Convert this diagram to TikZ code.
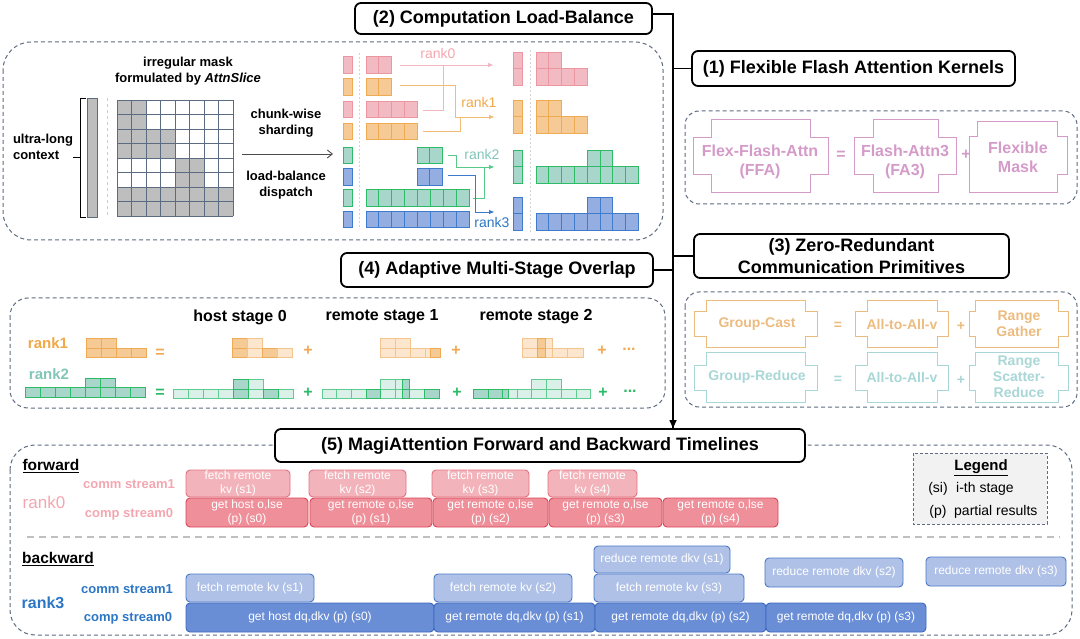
\documentclass[tikz,border=0pt]{standalone}
\usepackage{fontspec}
\setmainfont{Liberation Sans}
\usetikzlibrary{arrows.meta}
\definecolor{pkF}{HTML}{F2BAC2}\definecolor{pkD}{HTML}{EC96A2}
\definecolor{orF}{HTML}{F5CA94}\definecolor{orD}{HTML}{EFAA55}
\definecolor{orL}{HTML}{FCE6CD}\definecolor{orLD}{HTML}{F3C48E}
\definecolor{grF}{HTML}{A9D6CA}\definecolor{grD}{HTML}{2EBB68}
\definecolor{grL}{HTML}{DAF0E8}\definecolor{grLD}{HTML}{5FCB8F}
\definecolor{blF}{HTML}{95AEE2}\definecolor{blD}{HTML}{3E7BCB}
\definecolor{rkA}{HTML}{F4A6B0}\definecolor{rkB}{HTML}{F0A848}
\definecolor{rkC}{HTML}{82C6BA}\definecolor{rkD}{HTML}{2C76C6}
\definecolor{dashc}{HTML}{5E6B80}\definecolor{purp}{HTML}{D49BC8}
\definecolor{orl}{HTML}{ECBB80}\definecolor{tel}{HTML}{A9D6D6}
\definecolor{fcF}{HTML}{F3B3BB}\definecolor{fcD}{HTML}{E3707F}
\definecolor{fpF}{HTML}{EF8F9A}\definecolor{fpD}{HTML}{D94556}
\definecolor{bcF}{HTML}{AFC1E7}\definecolor{bcD}{HTML}{4B78C6}
\definecolor{bpF}{HTML}{6A8ED6}\definecolor{bpD}{HTML}{3B69BF}
\definecolor{maskg}{HTML}{BEBEBE}\definecolor{gridl}{HTML}{5B6B82}
\newcommand\xshape[9]{\draw[#1,line width=1] (#3,#6) -- (#4,#6) -- (#4,#7) -- (#5,#7) -- (#5,#8) -- (#4,#8) -- (#4,#9) -- (#3,#9) -- (#3,#8) -- (#2,#8) -- (#2,#7) -- (#3,#7) -- cycle;}
\newcommand\cellrow[7]{\foreach \ci in {1,...,#7}{\draw[fill=#1,draw=#2,line width=0.9] ({#3+(\ci-1)*#5},#4) rectangle ++(#5,#6);}}
\newcommand\segrow[3]{\foreach \xa/\xb/\ff/\dd in {#3}{\draw[fill=\ff,draw=\dd,line width=0.9] (\xa,#1) rectangle (\xb,{#1+#2});}}
\newcommand\tbox[7]{\node[#1,minimum width={#5-#3},minimum height={#6-#4}] (#2) at ({(#3+#5)/2},{(#4+#6)/2}) {#7};}
\begin{document}
\begin{tikzpicture}[x=1pt,y=-1pt,
  title/.style={draw,line width=1.8,rounded corners=6,fill=white,inner sep=0,align=center,font=\bfseries\fontsize{18}{22}\selectfont},
  panel/.style={draw=dashc,line width=1,dash pattern=on 4pt off 3pt},
  lab/.style={inner sep=0,align=center,font=\bfseries\fontsize{13}{16}\selectfont},
  rk/.style={inner sep=0,font=\fontsize{14}{16}\selectfont},
  pt/.style={inner sep=0,align=center,font=\bfseries\fontsize{16}{19}\selectfont,text=purp},
  ct/.style={inner sep=0,align=center,font=\bfseries\fontsize{14}{16}\selectfont},
  hd/.style={inner sep=0,font=\bfseries\fontsize{16}{19}\selectfont},
  tl/.style={inner sep=0,align=center,text=white,font=\fontsize{12}{14}\selectfont,rounded corners=4,line width=0.9},
  fc/.style={tl,fill=fcF,draw=fcD},fp/.style={tl,fill=fpF,draw=fpD},
  bc/.style={tl,fill=bcF,draw=bcD},bp/.style={tl,fill=bpF,draw=bpD},
  sl/.style={inner sep=0,font=\bfseries\fontsize{13}{16}\selectfont},
  tip/.style={-{Triangle[length=5pt,width=4pt]},line width=0.9}]
\useasboundingbox (0,0) rectangle (1080,639);
% ---------- panels ----------
\draw[panel,rounded corners=28] (3,42) rectangle (663,240);
\draw[panel,rounded corners=14] (685,111) rectangle (1077,204);
\draw[panel,rounded corners=14] (685,292) rectangle (1077,407);
\draw[panel,rounded corners=18] (10,298) rectangle (665,408);
\draw[panel,rounded corners=25] (10,445) rectangle (1072,635);
% ---------- titles and spine ----------
\node[title,minimum width=297,minimum height=31] (t2) at (503.5,18.5) {(2) Computation Load-Balance};
\node[title,minimum width=323,minimum height=35] (t1) at (853.5,68.5) {(1) Flexible Flash Attention Kernels};
\node[title,minimum width=315,minimum height=44] (t3) at (851.5,256) {(3) Zero-Redundant\\Communication Primitives};
\node[title,minimum width=312,minimum height=34] (t4) at (497,270) {(4) Adaptive Multi-Stage Overlap};
\node[title,minimum width=530,minimum height=33] (t5) at (540,445.5) {(5) MagiAttention Forward and Backward Timelines};
\coordinate (sp) at (673,14);
\draw[line width=1.3] (t2.east |- sp) -- (sp) -- (sp |- t5.north);
\draw[line width=1.3,-{Triangle[length=8pt,width=7pt]}] (sp |- t4.east) -- (sp |- t5.north);
\draw[line width=1.3] (sp |- t1.west) -- (t1.west);
\draw[line width=1.3] (sp |- t3.west) -- (t3.west);
\draw[line width=1.3] (t4.east) -- (sp |- t4.east);
% ---------- panel A left ----------
\node[lab] (irr) at (188,71.5) {irregular mask\\formulated by \textit{AttnSlice}};
\node[lab,align=left] (ctx) at (43,146.5) {ultra-long\\context};
\draw[line width=0.9] (86,98) -- (80,98) -- (80,217) -- (86,217);
\draw[line width=0.9] (80,157) -- (73,157);
\draw[fill=maskg,draw=gridl,line width=0.9] (87,98) rectangle (97,217);
\draw[gray!40,dashed,line width=0.8] (107,98) -- (107,217);
\fill[maskg] (117,100) rectangle (146,129);
\fill[maskg] (117,129) rectangle (175,158);
\fill[maskg] (175,158) rectangle (204,187);
\fill[maskg] (117,187) rectangle (233,216);
\foreach \i in {0,...,8}{
  \draw[gridl,line width=0.8] ({117+\i*14.5},100) -- ({117+\i*14.5},216);
  \draw[gridl,line width=0.8] (117,{100+\i*14.5}) -- (233,{100+\i*14.5});}
\node[lab] (chk) at (286,123) {chunk-wise\\sharding};
\node[lab] (lbd) at (286,185.5) {load-balance\\dispatch};
\coordinate (ma) at (242,154); \coordinate (mb) at (333,154);
\draw[black!70,line width=0.9,-{Straight Barb[length=5pt,width=8pt]}] (ma) -- (mb);
% ---------- panel A right ----------
\cellrow{pkF}{pkD}{343}{56}{9}{17}{1}
\cellrow{orF}{orD}{343}{78}{9}{17}{1}
\cellrow{pkF}{pkD}{343}{101}{9}{16}{1}
\cellrow{orF}{orD}{343}{123}{9}{16}{1}
\cellrow{grF}{grD}{343}{147}{9}{16}{1}
\cellrow{blF}{blD}{343}{168}{9}{17}{1}
\cellrow{grF}{grD}{343}{189}{9}{17}{1}
\cellrow{blF}{blD}{343}{211}{9}{16}{1}
\draw[gray!35,dash pattern=on 2pt off 2pt,line width=0.8] (359,53) -- (359,229);
\cellrow{pkF}{pkD}{366}{56}{12.9}{17}{2}
\cellrow{orF}{orD}{366}{78}{12.9}{17}{2}
\cellrow{pkF}{pkD}{366}{101}{12.9}{16}{4}
\cellrow{orF}{orD}{366}{123}{12.9}{16}{4}
\cellrow{grF}{grD}{417}{147}{12.9}{16}{2}
\cellrow{blF}{blD}{417}{168}{12.9}{17}{2}
\cellrow{grF}{grD}{366}{189}{12.9}{17}{8}
\cellrow{blF}{blD}{366}{211}{12.9}{16}{8}
% connectors
\draw[pkF!90!pkD,tip] (400,65) -- (493,65);
\draw[pkF!90!pkD,line width=0.9] (423,110) -- (443,110) -- (443,65);
\draw[orD!80,tip] (400,85) -- (455,85) -- (455,117) -- (494,117);
\draw[orD!80,line width=0.9] (423,131) -- (460,131) -- (460,117);
\draw[grD!80,tip] (448,155) -- (456,155) -- (456,167) -- (494,167);
\draw[grD!80,line width=0.9] (473,198) -- (484,198) -- (484,167);
\draw[blD,tip] (448,175) -- (475,175) -- (475,212) -- (494,212);
\node[rk,text=rkA] (r0) at (438,53) {rank0};
\node[rk,text=rkB] (r1) at (479,102) {rank1};
\node[rk,text=rkC] (r2) at (482,154) {rank2};
\node[rk,text=rkD] (r3) at (492,222) {rank3};
% results
\cellrow{pkF}{pkD}{513}{52}{9}{16.5}{1}\cellrow{pkF}{pkD}{513}{68.5}{9}{16.5}{1}
\cellrow{orF}{orD}{513}{100}{9}{16.5}{1}\cellrow{orF}{orD}{513}{116.5}{9}{16.5}{1}
\cellrow{grF}{grD}{513}{150}{9}{16.5}{1}\cellrow{grF}{grD}{513}{166.5}{9}{16.5}{1}
\cellrow{blF}{blD}{513}{197}{9}{16.5}{1}\cellrow{blF}{blD}{513}{213.5}{9}{16.5}{1}
\draw[gray!35,dash pattern=on 2pt off 2pt,line width=0.8] (530,50) -- (530,232);
\cellrow{pkF}{pkD}{536}{52}{12.8}{16.5}{2}\cellrow{pkF}{pkD}{536}{68.5}{12.8}{16.5}{4}
\cellrow{orF}{orD}{536}{100}{12.8}{16.5}{2}\cellrow{orF}{orD}{536}{116.5}{12.8}{16.5}{4}
\cellrow{grF}{grD}{587.2}{150}{12.8}{16.5}{2}\cellrow{grF}{grD}{536}{166.5}{12.8}{16.5}{8}
\cellrow{blF}{blD}{587.2}{197}{12.8}{16.5}{2}\cellrow{blF}{blD}{536}{213.5}{12.8}{16.5}{8}
% ---------- panel (1) ----------
\xshape{purp}{693}{711}{810}{828}{120}{138}{175}{193}
\xshape{purp}{854}{873}{938}{956}{120}{138}{175}{193}
\draw[purp,line width=1] (977,122) -- (1057,122) -- (1057,137) -- (1067,137) -- (1067,175) -- (1057,175) -- (1057,193) -- (969,193) -- (969,137) -- (977,137) -- cycle;
\node[pt] (ffa) at (760,162) {Flex-Flash-Attn\\(FFA)};
\node[pt] (eq1) at (841,155) {=};
\node[pt] (fa3) at (905,162) {Flash-Attn3\\(FA3)};
\node[pt] (pl1) at (966,155) {+};
\node[pt] (fm) at (1018,157) {Flexible\\Mask};
% ---------- panel (3) ----------
\xshape{orl}{694}{706}{805}{817}{301}{312}{337}{348}
\xshape{orl}{855}{867}{937}{948}{301}{312}{337}{348}
\xshape{orl}{969}{975}{1058}{1068}{301}{312}{337}{348}
\node[ct,text=orl] (gc) at (757,324) {Group-Cast};
\node[ct,text=orl] (eq2) at (838,326) {=};
\node[ct,text=orl] (a2a1) at (902,324) {All-to-All-v};
\node[ct,text=orl] (pl2) at (961,326) {+};
\node[ct,text=orl] (rg) at (1019,324) {Range\\Gather};
\xshape{tel}{694}{706}{805}{817}{353}{365}{390}{402}
\xshape{tel}{855}{867}{937}{948}{353}{365}{390}{402}
\xshape{tel}{969}{975}{1058}{1068}{353}{365}{390}{402}
\node[ct,text=tel] (gr) at (757,377) {Group-Reduce};
\node[ct,text=tel] (eq3) at (838,380) {=};
\node[ct,text=tel] (a2a2) at (902,377) {All-to-All-v};
\node[ct,text=tel] (pl3) at (961,380) {+};
\node[ct,text=tel] (rsr) at (1019,377) {Range\\Scatter-\\Reduce};
% ---------- panel (4) ----------
\node[hd] (h0) at (240,317) {host stage 0};
\node[hd] (h1) at (382,317) {remote stage 1};
\node[hd] (h2) at (536,317) {remote stage 2};
\node[inner sep=0,font=\bfseries\fontsize{15}{17}\selectfont,text=rkB] (p4r1) at (48,343) {rank1};
\node[inner sep=0,font=\bfseries\fontsize{15}{17}\selectfont,text=rkC] (p4r2) at (49,374) {rank2};
\cellrow{orF}{orD}{86}{338.5}{15}{9.5}{2}
\cellrow{orF}{orD}{86}{348}{15}{9.5}{4}
\segrow{338.5}{9.5}{232/247/orF/orD,247/262/orL/orLD}
\segrow{348}{9.5}{232/247/orF/orD,247/262/orL/orLD,262/277/orF/orD,277/292/orL/orLD}
\segrow{338.5}{9.5}{380/395/orL/orLD,395/410/orL/orLD}
\segrow{348}{9.5}{380/395/orL/orLD,395/410/orL/orLD,410/425/orL/orLD,425/430/orL/orLD,430/440/orF/orD}
\segrow{338.5}{9.5}{522/537/orL/orLD,545/552/orL/orLD,537/545/orF/orD}
\segrow{348}{9.5}{522/537/orL/orLD,545/552/orL/orLD,552/567/orL/orLD,567/583/orL/orLD,537/545/orF/orD}
\cellrow{grF}{grD}{85}{378}{15}{9.5}{2}
\cellrow{grF}{grD}{25}{387.5}{15}{9.5}{8}
\segrow{379.5}{9.5}{248/263/grL/grLD,233/248/grF/grD}
\segrow{389}{9.5}{173/188/grL/grLD,188/203/grL/grLD,203/218/grL/grLD,218/233/grL/grLD,248/263/grL/grLD,278/293/grL/grLD,233/248/grF/grD,263/278/grF/grD}
\segrow{379.5}{9.5}{380/395/grL/grLD,395/402/grL/grLD,402/409/grF/grD}
\segrow{389}{9.5}{322/336/grL/grLD,336/351/grL/grLD,351/366/grL/grLD,380/395/grL/grLD,395/402/grL/grLD,409/424/grL/grLD,366/380/grF/grD,402/409/grF/grD,424/439/grF/grD}
\segrow{379.5}{9.5}{531/546/grL/grLD,546/561/grL/grLD}
\segrow{389}{9.5}{508/517/grL/grLD,517/531/grL/grLD,531/546/grL/grLD,546/561/grL/grLD,561/576/grL/grLD,576/590/grL/grLD,473/488/grF/grD,488/502/grF/grD,502/508/grF/grD}
\node[hd,text=orD] (oe) at (160,353) {=};
\node[hd,text=orD] (op1) at (308,351) {+};
\node[hd,text=orD] (op2) at (456,351) {+};
\node[hd,text=orD] (op3) at (602,351) {+};
\node[hd,text=orD] (od) at (629,349) {...};
\node[hd,text=grD] (ge) at (160,393) {=};
\node[hd,text=grD] (gp1) at (308,393) {+};
\node[hd,text=grD] (gp2) at (457,393) {+};
\node[hd,text=grD] (gp3) at (603,393) {+};
\node[hd,text=grD] (gd) at (630,391) {...};
% ---------- panel (5) ----------
\node[inner sep=0,font=\bfseries\fontsize{15.5}{18}\selectfont] (fw) at (51,466) {\underline{forward}};
\node[sl,text=rkA] (fcs) at (129,484) {comm stream1};
\node[sl,text=rkA] (fps) at (129,514) {comp stream0};
\node[inner sep=0,font=\fontsize{17}{19}\selectfont,text=rkA] (fr0) at (44,502) {rank0};
\tbox{fc}{fc1}{186}{470}{290}{497}{fetch remote\\kv (s1)}
\tbox{fc}{fc2}{309}{470}{406}{497}{fetch remote\\kv (s2)}
\tbox{fc}{fc3}{432}{470}{529}{497}{fetch remote\\kv (s3)}
\tbox{fc}{fc4}{548}{470}{637}{497}{fetch remote\\kv (s4)}
\tbox{fp}{fp0}{186}{498}{308}{527}{get host o,lse\\(p) (s0)}
\tbox{fp}{fp1}{310}{498}{432}{527}{get remote o,lse\\(p) (s1)}
\tbox{fp}{fp2}{433}{498}{548}{527}{get remote o,lse\\(p) (s2)}
\tbox{fp}{fp3}{549}{498}{662}{527}{get remote o,lse\\(p) (s3)}
\tbox{fp}{fp4}{663}{498}{778}{527}{get remote o,lse\\(p) (s4)}
\draw[fill=black!5,draw=dashc,line width=0.9,dash pattern=on 3pt off 2pt] (913,453) rectangle (1047,524);
\node[inner sep=0,font=\bfseries\fontsize{15}{18}\selectfont] (lg) at (981,468) {\underline{Legend}};
\node[inner sep=0,font=\fontsize{14}{16}\selectfont] (lsi) at (938,489) {(si)};
\node[inner sep=0,anchor=west,font=\fontsize{14}{16}\selectfont] (lst) at (956,489) {i-th stage};
\node[inner sep=0,font=\fontsize{14}{16}\selectfont] (lp) at (938,512) {(p)};
\node[inner sep=0,anchor=west,font=\fontsize{14}{16}\selectfont] (lpr) at (954,512) {partial results};
\coordinate (sa) at (27,537); \coordinate (sb) at (1060,537);
\draw[black!25,line width=1.6,dash pattern=on 7pt off 5pt] (sa) -- (sb);
\node[inner sep=0,font=\bfseries\fontsize{15.5}{18}\selectfont] (bw) at (58,559) {\underline{backward}};
\node[sl,text=rkD] (bcs) at (127,589) {comm stream1};
\node[sl,text=rkD] (bps) at (128,618) {comp stream0};
\node[inner sep=0,font=\bfseries\fontsize{16}{18}\selectfont,text=rkD] (br3l) at (43,603) {rank3};
\tbox{bc}{bc1}{186}{574}{314}{602}{fetch remote kv (s1)}
\tbox{bc}{bc2}{434}{574}{572}{602}{fetch remote kv (s2)}
\tbox{bc}{bc3}{594}{574}{744}{602}{fetch remote kv (s3)}
\tbox{bc}{br1}{594}{546}{730}{573}{reduce remote dkv (s1)}
\tbox{bc}{br2}{765}{558}{903}{587}{reduce remote dkv (s2)}
\tbox{bc}{br3}{926}{557}{1066}{586}{reduce remote dkv (s3)}
\tbox{bp}{bp0}{186}{603}{434}{632}{get host dq,dkv (p) (s0)}
\tbox{bp}{bp1}{434}{603}{595}{632}{get remote dq,dkv (p) (s1)}
\tbox{bp}{bp2}{595}{603}{766}{632}{get remote dq,dkv (p) (s2)}
\tbox{bp}{bp3}{766}{603}{926}{632}{get remote dq,dkv (p) (s3)}
\end{tikzpicture}
\end{document}
